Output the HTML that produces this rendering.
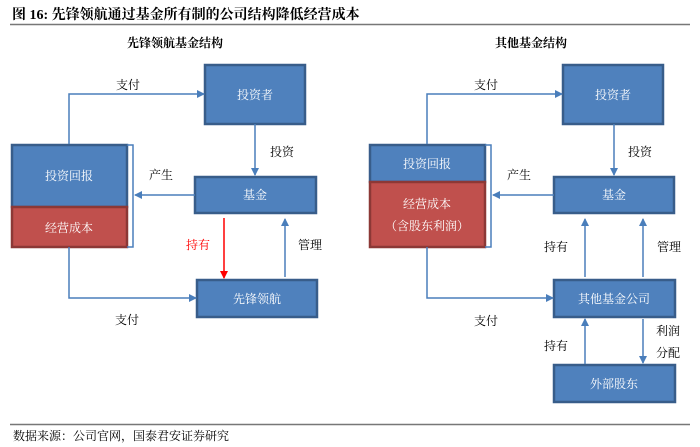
<!DOCTYPE html>
<html><head><meta charset="utf-8"><style>
body{margin:0;background:#fff;}
svg{display:block;}
text{font-family:"Liberation Serif","Noto Serif CJK SC",serif;font-size:12px;}
.w{fill:#fff;text-anchor:middle;}
.b{fill:#4f81bd;stroke:#385d8a;stroke-width:2.5;}
.r{fill:#c0504d;stroke:#8c3836;stroke-width:2.5;}
.l{stroke:#4a7ebb;stroke-width:1.5;fill:none;}
</style></head><body>
<svg width="700" height="447" viewBox="0 0 700 447">
<defs>
<marker id="a" markerWidth="8" markerHeight="8" refX="7" refY="4" orient="auto" markerUnits="userSpaceOnUse"><path d="M0,0 L8,4 L0,8z" fill="#4a7ebb"/></marker>
<marker id="ar" markerWidth="8" markerHeight="8" refX="7" refY="4" orient="auto" markerUnits="userSpaceOnUse"><path d="M0,0 L8,4 L0,8z" fill="#ff0000"/></marker>
</defs>
<text x="12" y="19" style="font-size:14px;font-weight:bold">图 16:  先锋领航通过基金所有制的公司结构降低经营成本</text>
<line x1="10" y1="24.5" x2="690" y2="24.5" stroke="#777" stroke-width="1.5"/>
<text x="175" y="47" style="font-weight:bold;text-anchor:middle">先锋领航基金结构</text>
<text x="531" y="47" style="font-weight:bold;text-anchor:middle">其他基金结构</text>

<!-- left -->
<rect class="b" x="205" y="65" width="100" height="59"/><text class="w" x="255" y="99">投资者</text>
<rect class="b" x="12" y="145" width="115" height="62"/><text class="w" x="69" y="180">投资回报</text>
<rect class="r" x="12" y="207" width="115" height="40"/><text class="w" x="69" y="232">经营成本</text>
<path class="l" d="M127,145 H133 V247 H127"/>
<rect class="b" x="195" y="177" width="121" height="36"/><text class="w" x="255" y="199">基金</text>
<rect class="b" x="197" y="280" width="120" height="37"/><text class="w" x="257" y="303">先锋领航</text>
<path class="l" d="M69,144 V94 H204" marker-end="url(#a)"/>
<path class="l" d="M255,124 V175" marker-end="url(#a)"/>
<path class="l" d="M195,195 H135" marker-end="url(#a)"/>
<path d="M224,218 V278" stroke="#ff0000" stroke-width="1.5" marker-end="url(#ar)"/>
<path class="l" d="M285,277 V219" marker-end="url(#a)"/>
<path class="l" d="M69,247 V298 H196" marker-end="url(#a)"/>
<text x="116" y="89">支付</text>
<text x="270" y="156">投资</text>
<text x="149" y="179">产生</text>
<text x="186" y="249" fill="#ff0000">持有</text>
<text x="298" y="249">管理</text>
<text x="115" y="324">支付</text>

<!-- right -->
<rect class="b" x="563" y="65" width="100" height="59"/><text class="w" x="613" y="99">投资者</text>
<rect class="b" x="370" y="145" width="115" height="37"/><text class="w" x="427" y="168">投资回报</text>
<rect class="r" x="370" y="182" width="115" height="65"/><text class="w" x="427" y="208">经营成本</text><text class="w" x="427" y="230">（含股东利润）</text>
<path class="l" d="M485,145 H491 V247 H485"/>
<rect class="b" x="554" y="177" width="120" height="36"/><text class="w" x="614" y="199">基金</text>
<rect class="b" x="554" y="280" width="121" height="37"/><text class="w" x="614" y="303">其他基金公司</text>
<rect class="b" x="554" y="365" width="121" height="37"/><text class="w" x="614" y="388">外部股东</text>
<path class="l" d="M427,144 V94 H562" marker-end="url(#a)"/>
<path class="l" d="M614,124 V175" marker-end="url(#a)"/>
<path class="l" d="M554,195 H493" marker-end="url(#a)"/>
<path class="l" d="M585,277 V219" marker-end="url(#a)"/>
<path class="l" d="M643,277 V219" marker-end="url(#a)"/>
<path class="l" d="M427,247 V298 H553" marker-end="url(#a)"/>
<path class="l" d="M585,364 V319" marker-end="url(#a)"/>
<path class="l" d="M643,319 V363" marker-end="url(#a)"/>
<text x="474" y="89">支付</text>
<text x="628" y="156">投资</text>
<text x="507" y="179">产生</text>
<text x="544" y="251">持有</text>
<text x="657" y="251">管理</text>
<text x="474" y="325">支付</text>
<text x="656" y="335">利润</text>
<text x="656" y="357">分配</text>
<text x="544" y="350">持有</text>

<line x1="10" y1="424.5" x2="690" y2="424.5" stroke="#777" stroke-width="1.5"/>
<text x="13" y="440">数据来源：公司官网，国泰君安证券研究</text>
</svg>
</body></html>
